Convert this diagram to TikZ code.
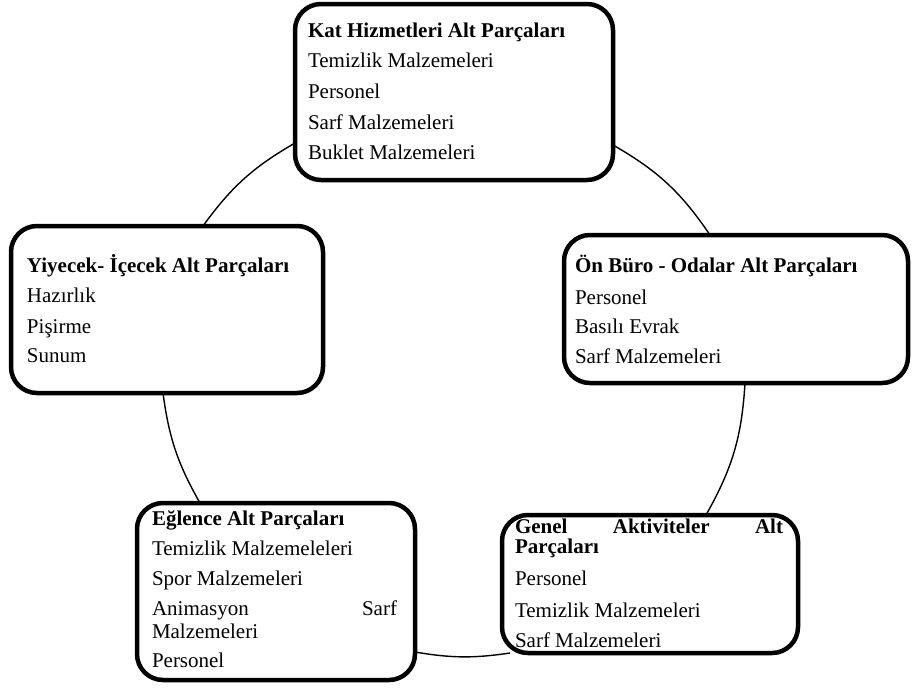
\documentclass[tikz,border=0pt]{standalone}
\usepackage{fontspec}
\setmainfont{Liberation Serif}
\begin{document}
\begin{tikzpicture}[x=1pt,y=-1pt,
  box/.style={draw, line width=4.5pt, rounded corners=26pt, fill=white, inner sep=0pt, outer sep=0pt},
  conn/.style={line width=1.4pt},
  txt/.style={anchor=base west, inner sep=0pt, outer sep=0pt, font=\fontsize{21}{25}\selectfont},
  hdr/.style={txt, font=\fontsize{21}{25}\selectfont\bfseries}]
\useasboundingbox (0,0) rectangle (912,688);

% boxes
\node[box, minimum width=318pt, minimum height=176pt] (kat) at (454,92) {};
\node[box, minimum width=312pt, minimum height=167pt] (yiy) at (167,309.5) {};
\node[box, minimum width=344pt, minimum height=148pt] (on) at (736,309) {};
\node[box, minimum width=278pt, minimum height=177pt] (egl) at (276,591.5) {};
\node[box, minimum width=296pt, minimum height=138pt] (gen) at (650,584) {};

% connectors (arc of the cycle)
\draw[conn] ([yshift=-51pt]kat.west) to[bend right=12] ([xshift=36pt]yiy.north);
\draw[conn] ([yshift=-53pt]kat.east) to[bend left=13] ([xshift=-26pt]on.north);
\draw[conn] ([xshift=9pt]on.south) to[bend left=13] ([xshift=56pt]gen.north);
\draw[conn] ([xshift=-140pt]gen.south) to[bend left=9] ([yshift=-60.5pt]egl.east);
\draw[conn] ([xshift=-76pt]egl.north) to[bend left=11] ([xshift=-4pt]yiy.south);

% Kat Hizmetleri
\node[hdr] (k0) at (308,37) {Kat Hizmetleri Alt Parçaları};
\node[txt] (k1) at (308,67) {Temizlik Malzemeleri};
\node[txt] (k2) at (308,98) {Personel};
\node[txt] (k3) at (308,129) {Sarf Malzemeleri};
\node[txt] (k4) at (308,159) {Buklet Malzemeleri};

% Yiyecek
\node[hdr] (y0) at (27,272) {Yiyecek- İçecek Alt Parçaları};
\node[txt] (y1) at (27,302) {Hazırlık};
\node[txt] (y2) at (27,333) {Pişirme};
\node[txt] (y3) at (27,362) {Sunum};

% On Buro
\node[hdr] (o0) at (575,272) {Ön Büro - Odalar Alt Parçaları};
\node[txt] (o1) at (575,304) {Personel};
\node[txt] (o2) at (575,333) {Basılı Evrak};
\node[txt] (o3) at (575,363) {Sarf Malzemeleri};

% Eglence
\node[hdr] (e0) at (152,525) {Eğlence Alt Parçaları};
\node[txt] (e1) at (152,555) {Temizlik Malzemeleleri};
\node[txt] (e2) at (152,585) {Spor Malzemeleri};
\node[txt] (e3) at (152,615) {\hbox to 245pt{Animasyon\hfill Sarf}};
\node[txt] (e4) at (152,638) {Malzemeleri};
\node[txt] (e5) at (152,667) {Personel};

% Genel
\node[hdr] (g0) at (515,533) {\hbox to 268pt{Genel\hfill Aktiviteler\hfill Alt}};
\node[hdr] (g1) at (515,553) {Parçaları};
\node[txt] (g2) at (515,585) {Personel};
\node[txt] (g3) at (515,617) {Temizlik Malzemeleri};
\node[txt] (g4) at (515,647) {Sarf Malzemeleri};
\end{tikzpicture}
\end{document}
